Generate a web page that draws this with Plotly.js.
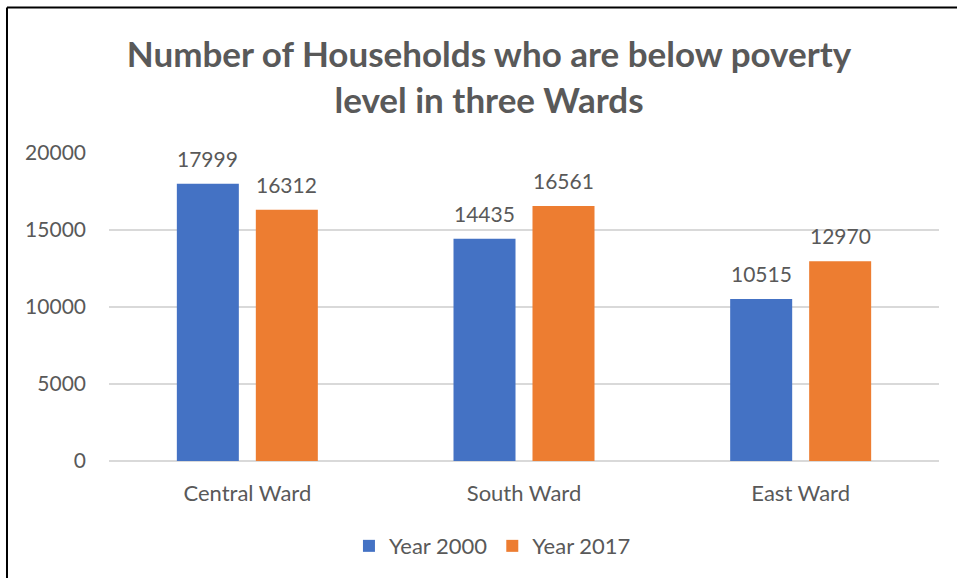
<!DOCTYPE html>
<html>
<head>
<meta charset="utf-8">
<script src="https://cdn.plot.ly/plotly-3.0.1.min.js"></script>
<style>
html,body{margin:0;padding:0;background:#fff;}
#chart{width:957px;height:578px;}
</style>
</head>
<body>
<div id="chart"></div>
<script>
var categories = ["Central Ward", "South Ward", "East Ward"];
var seriesNames = ["Year 2000", "Year 2017"];
var year2000 = [17999, 14435, 10515];
var year2017 = [16312, 16561, 12970];
var yTicks = [0, 5000, 10000, 15000, 20000];
var colors = ["#4472C4", "#ED7D31"];

var FONT = "Lato, 'Open Sans', sans-serif";
var GRAY = "#595959";

var W = 957, H = 578;
var M = { l: 109, r: 18, t: 153, b: 116 };
var BARGAP = 0.429, GROUPGAP = 0.215;

var series = [year2000, year2017];

var traces = series.map(function (vals, i) {
  return {
    type: "bar",
    name: seriesNames[i],
    x: categories,
    y: vals,
    marker: { color: colors[i] },
    hoverinfo: "skip"
  };
});

// data labels placed above each bar (offset derived from the bar layout)
var catPx = (W - M.l - M.r) / categories.length;
var slotPx = catPx * (1 - BARGAP) / series.length;
var annotations = [];
series.forEach(function (vals, i) {
  var shift = (i - (series.length - 1) / 2) * slotPx;
  vals.forEach(function (v, j) {
    annotations.push({
      x: categories[j], y: v, xref: "x", yref: "y",
      text: String(v), showarrow: false,
      xanchor: "center", yanchor: "bottom",
      xshift: shift, yshift: 11,
      font: { family: FONT, size: 21, color: GRAY }
    });
  });
});

var layout = {
  width: W,
  height: H,
  margin: M,
  paper_bgcolor: "#fff",
  plot_bgcolor: "#fff",
  font: { family: FONT, color: GRAY },
  title: {
    text: "<b>Number of Households who are below poverty<br>level in three Wards</b>",
    font: { family: FONT, size: 35, color: GRAY },
    x: 0.511,
    xanchor: "center",
    y: 0.884,
    yanchor: "middle"
  },
  barmode: "group",
  bargap: BARGAP,
  bargroupgap: GROUPGAP,
  xaxis: {
    type: "category",
    showgrid: false,
    zeroline: false,
    showline: false,
    ticks: "",
    ticklabelstandoff: 17,
    tickfont: { family: FONT, size: 22, color: GRAY }
  },
  yaxis: {
    range: [0, 20000],
    tickvals: yTicks,
    ticktext: yTicks.map(String),
    showgrid: true,
    gridcolor: "#D9D9D9",
    gridwidth: 1.3,
    zeroline: true,
    zerolinecolor: "#D9D9D9",
    zerolinewidth: 1.3,
    showline: false,
    ticks: "",
    ticklabelstandoff: 22,
    tickfont: { family: FONT, size: 21, color: GRAY }
  },
  showlegend: true,
  legend: {
    orientation: "h",
    x: 0.462,
    xanchor: "center",
    y: -0.272,
    yanchor: "middle",
    font: { family: FONT, size: 22, color: GRAY },
    itemwidth: 30,
    traceorder: "normal"
  },
  annotations: annotations,
  shapes: [
    { type: "line", xref: "paper", yref: "paper", x0: -0.1229, x1: -0.1229, y0: 1.4725, y1: -0.38, line: { color: "#000", width: 2 } },
    { type: "line", xref: "paper", yref: "paper", x0: -0.1229, x1: 1.03, y0: 1.4725, y1: 1.4725, line: { color: "#000", width: 2 } }
  ]
};

Plotly.newPlot("chart", traces, layout, { displayModeBar: false, staticPlot: true });
</script>
</body>
</html>
